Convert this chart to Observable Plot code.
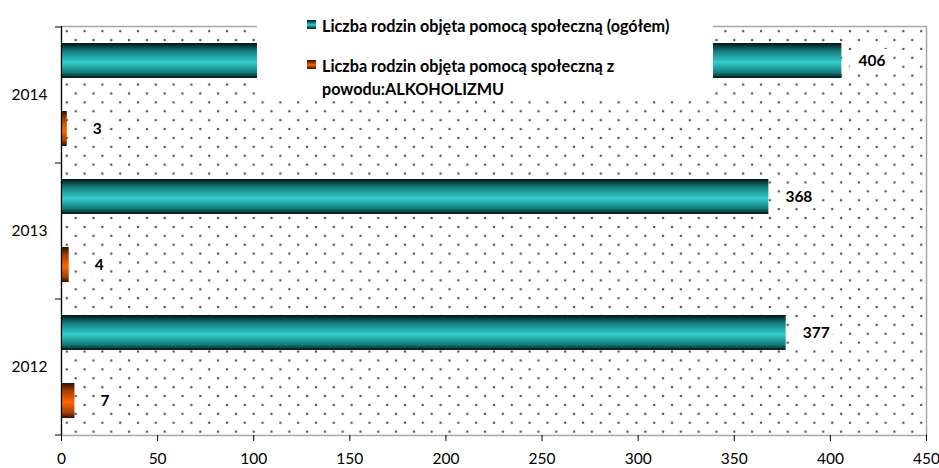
<!DOCTYPE html>
<html>
<head>
<meta charset="utf-8">
<script src="https://cdn.jsdelivr.net/npm/d3@7"></script>
<script src="https://cdn.jsdelivr.net/npm/@observablehq/plot@0.6"></script>
<style>
  body { margin: 0; background: #fff; }
  #wrap { position: relative; width: 939px; height: 468px; font-family: Lato, sans-serif; }
  #legend { position: absolute; left: 257px; top: 0; width: 456px; height: 95px; background: #fff; font-weight: bold; font-size: 16.2px; color: #000; }
  .mk { position: absolute; left: 50px; width: 9px; height: 9px; }
  .lt { position: absolute; left: 65px; line-height: 23px; white-space: nowrap; }
</style>
</head>
<body>
<div id="wrap"></div>
<script>
// ---- data ----
const years = ["2014", "2013", "2012"];
const seriesNames = [
  "Liczba rodzin objęta pomocą społeczną (ogółem)",
  "Liczba rodzin objęta pomocą społeczną z powodu:ALKOHOLIZMU"
];
const totalFamilies = [406, 368, 377];   // 2014, 2013, 2012
const alcoholFamilies = [3, 4, 7];       // 2014, 2013, 2012
const xTicks = [0, 50, 100, 150, 200, 250, 300, 350, 400, 450];

// ---- table ----
const rows = [];
years.forEach((yr, i) => {
  rows.push({year: yr, key: yr + "|t", series: seriesNames[0], value: totalFamilies[i]});
  rows.push({year: yr, key: yr + "|a", series: seriesNames[1], value: alcoholFamilies[i]});
});
const keys = rows.map(d => d.key);
const topKeys = years.map(y => y + "|t");
const lastKey = years[years.length - 1] + "|a";

const plot = Plot.plot({
  width: 939,
  height: 468,
  marginLeft: 61,
  marginRight: 13,
  marginTop: 26,
  marginBottom: 33,
  style: {fontFamily: "Lato, sans-serif", fontSize: "15.5px", color: "#000", background: "transparent"},
  x: {domain: [0, 450], label: null, axis: null},
  y: {domain: keys, paddingInner: 0.485, paddingOuter: 0.2425, label: null, axis: null},
  marks: [
    Plot.frame({fill: "url(#dots)", stroke: "#a6a6a6", strokeWidth: 1.5}),
    Plot.barX(rows.filter(d => d.key.endsWith("|t")), {x: "value", y: "key", fill: "url(#gTeal)"}),
    Plot.barX(rows.filter(d => d.key.endsWith("|a")), {x: "value", y: "key", fill: "url(#gOrange)"}),
    Plot.text(rows, {
      x: "value", y: "key", text: d => String(d.value),
      dx: 30, textAnchor: "middle", fontWeight: "bold", fontSize: 15.5,
      fill: "#000", stroke: "#fff", strokeWidth: 12, strokeLinejoin: "miter"
    }),
    Plot.ruleX([0], {stroke: "#000", strokeWidth: 1.2}),
    Plot.axisX({ticks: xTicks, tickSize: 6, tickPadding: 11, line: true, stroke: "#000", fontSize: 15.5}),
    Plot.axisY(topKeys, {tickFormat: d => d.split("|")[0], tickSize: 0, tickPadding: 14, dy: 34, fontSize: 15.5}),
    Plot.axisY(topKeys, {tickFormat: () => "", tickSize: 6, dy: -34, stroke: "#000"}),
    Plot.axisY([lastKey], {tickFormat: () => "", tickSize: 6, dy: 34, stroke: "#000"})
  ]
});

// defs: dotted pattern and cylinder gradients
const defs = d3.select(plot).insert("defs", ":first-child");
const pat = defs.append("pattern").attr("id", "dots")
  .attr("patternUnits", "userSpaceOnUse").attr("width", 17.8).attr("height", 17.8);
pat.append("circle").attr("cx", 4).attr("cy", 4).attr("r", 1.25).attr("fill", "#555");
pat.append("circle").attr("cx", 12.9).attr("cy", 12.9).attr("r", 1.25).attr("fill", "#555");

function grad(id, edge, mid, center) {
  const g = defs.append("linearGradient").attr("id", id)
    .attr("x1", 0).attr("y1", 0).attr("x2", 0).attr("y2", 1);
  [[0, edge], [0.22, mid], [0.55, center], [0.85, mid], [1, edge]].forEach(([o, c]) =>
    g.append("stop").attr("offset", o).attr("stop-color", c));
}
grad("gTeal", "#021414", "#167a7a", "#33cccc");
grad("gOrange", "#2e0e00", "#a33f00", "#ff6600");

const wrap = document.getElementById("wrap");
wrap.appendChild(plot);

// legend overlay
const legend = document.createElement("div");
legend.id = "legend";
legend.innerHTML = `
  <div class="mk" style="top:20px;background:linear-gradient(#021414,#33cccc 55%,#021414)"></div>
  <div class="lt" style="top:13.5px">${seriesNames[0]}</div>
  <div class="mk" style="top:60px;background:linear-gradient(#2e0e00,#ff6600 55%,#2e0e00)"></div>
  <div class="lt" style="top:53.5px">Liczba rodzin objęta pomocą społeczną z<br>powodu:ALKOHOLIZMU</div>`;
wrap.appendChild(legend);
</script>
</body>
</html>
